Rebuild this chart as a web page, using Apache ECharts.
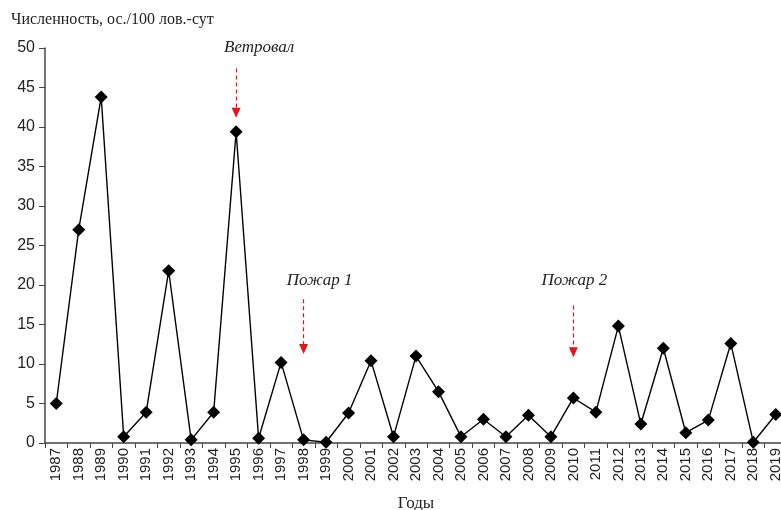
<!DOCTYPE html>
<html><head><meta charset="utf-8">
<script src="https://cdn.jsdelivr.net/npm/echarts@6/dist/echarts.min.js"></script>
<style>html,body{margin:0;padding:0;background:#fff}#c{width:781px;height:510px}</style>
</head><body><div id="c"></div>
<script>
const years = ['1987','1988','1989','1990','1991','1992','1993','1994','1995','1996','1997','1998','1999','2000','2001','2002','2003','2004','2005','2006','2007','2008','2009','2010','2011','2012','2013','2014','2015','2016','2017','2018','2019'];
const abundance = [5.0,27.0,43.8,0.8,3.9,21.8,0.4,3.9,39.4,0.6,10.2,0.4,0.1,3.8,10.4,0.8,11.0,6.5,0.8,3.0,0.8,3.5,0.8,5.7,3.9,14.8,2.4,12.0,1.3,2.9,12.6,0.1,3.6];
const yTicks = [0,5,10,15,20,25,30,35,40,45,50];
const events = [
  {year:'1995', label:'Ветровал', textY:49.8, top:47.4, bottom:41.8, dx:23, dy:-2},
  {year:'1998', label:'Пожар 1', textY:20.6, top:18.2, bottom:11.9, dx:16, dy:0},
  {year:'2010', label:'Пожар 2', textY:20.6, top:17.4, bottom:11.5, dx:1, dy:0}
];
const chart = echarts.init(document.getElementById('c'), null, {renderer:'canvas'});
const serif = '"Liberation Serif", "DejaVu Serif", serif';
const sans = '"Liberation Sans", Arial, sans-serif';
chart.setOption({
  animation:false,
  backgroundColor:'#fff',
  title:{text:'Численность, ос./100 лов.-сут', left:6, top:7,
    textStyle:{fontFamily:serif, fontSize:16, fontWeight:'normal', color:'#222'}},
  grid:{left:45, top:48, width:742, height:395, containLabel:false, outerBoundsMode:'none'},
  xAxis:{type:'category', data:years, boundaryGap:true,
    name:'Годы', nameLocation:'middle', nameGap:52,
    nameTextStyle:{fontFamily:serif, fontSize:17, color:'#222'},
    axisLine:{lineStyle:{color:'#444', width:1.5}},
    axisTick:{show:true, alignWithLabel:false, length:5, lineStyle:{color:'#444'}},
    axisLabel:{rotate:90, interval:0, fontFamily:sans, fontSize:15, color:'#222', margin:5}},
  yAxis:{type:'value', min:0, max:50, interval:5,
    axisLine:{show:true, lineStyle:{color:'#444', width:1.5}},
    axisTick:{show:true, length:6, lineStyle:{color:'#444'}},
    splitLine:{show:false},
    axisLabel:{fontFamily:sans, fontSize:16, color:'#222', margin:10,
      formatter:v=>yTicks.includes(v)?String(v):''}},
  series:[{type:'line', data:abundance, symbol:'diamond', symbolSize:13,
    itemStyle:{color:'#000'}, lineStyle:{color:'#000', width:1.4},
    markLine:{silent:true, symbol:['none','triangle'], symbolSize:[9,10],
      lineStyle:{color:'#e3151a', type:[4,3], width:1.2},
      label:{show:false},
      data:events.map(e=>[{coord:[e.year,e.top]},{coord:[e.year,e.bottom]}])},
    markPoint:{silent:true, symbol:'circle', symbolSize:1, itemStyle:{color:'rgba(0,0,0,0)'},
      data:events.map(e=>({coord:[e.year,e.textY], value:e.label,
        label:{show:true, formatter:e.label, position:'inside', offset:[e.dx,e.dy],
          fontFamily:serif, fontStyle:'italic', fontSize:17, color:'#222'}}))}
  }]
});
</script></body></html>
